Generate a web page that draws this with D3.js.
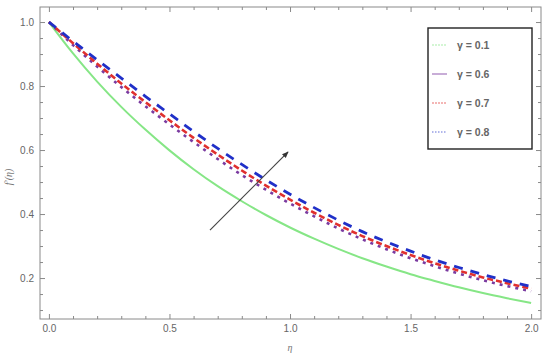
<!DOCTYPE html>
<html>
<head>
<meta charset="utf-8">
<script src="https://cdn.jsdelivr.net/npm/d3@7"></script>
<style>
body { margin: 0; background: #fff; }
.frame path, .frame line { stroke: #8a8a8a; }
.frame text { fill: #666; font-family: "Liberation Sans", Arial, sans-serif; font-size: 10px; }
.lbl { fill: #777; font-family: "Liberation Serif", serif; font-style: italic; font-size: 10px; }
.leg text { fill: #666; font-family: "Liberation Sans", Arial, sans-serif; font-size: 10.5px; font-weight: bold; }
</style>
</head>
<body>
<div class="chart"></div>
<script>
var eta = [0, 0.1, 0.2, 0.3, 0.4, 0.5, 0.6, 0.7, 0.8, 0.9, 1.0, 1.1, 1.2, 1.3, 1.4, 1.5, 1.6, 1.7, 1.8, 1.9, 2.0];

var g01 = [1.0, 0.902, 0.814, 0.735, 0.664, 0.599, 0.540, 0.487, 0.440, 0.397, 0.358, 0.323, 0.291, 0.262, 0.236, 0.212, 0.191, 0.171, 0.153, 0.137, 0.122];
var g06 = [1.0, 0.928, 0.861, 0.797, 0.737, 0.680, 0.625, 0.572, 0.522, 0.476, 0.433, 0.393, 0.355, 0.321, 0.290, 0.262, 0.237, 0.214, 0.193, 0.175, 0.159];
var g07 = [1.0, 0.934, 0.870, 0.808, 0.750, 0.693, 0.638, 0.586, 0.536, 0.489, 0.445, 0.404, 0.366, 0.331, 0.300, 0.272, 0.246, 0.223, 0.202, 0.184, 0.167];
var g08 = [1.0, 0.940, 0.882, 0.825, 0.768, 0.713, 0.658, 0.605, 0.555, 0.507, 0.462, 0.420, 0.381, 0.345, 0.313, 0.284, 0.257, 0.233, 0.211, 0.191, 0.174];

var seriesNames = ["\u03b3 = 0.1", "\u03b3 = 0.6", "\u03b3 = 0.7", "\u03b3 = 0.8"];
var seriesVals = [g01, g06, g07, g08];
var seriesColors = ["#86e686", "#7a3aa0", "#e0302e", "#2030c8"];
var seriesDash = [null, "3,5", "6,3", "9,8"];
var seriesWidth = [2, 2.6, 2.6, 2.8];

var xMajor = [0, 0.5, 1.0, 1.5, 2.0];
var yMajor = [0.2, 0.4, 0.6, 0.8, 1.0];

// arrow annotation (eta, f') start -> end
var arrowEta = [0.668, 0.992];
var arrowVal = [0.35, 0.594];

var width = 550, height = 355,
	pLeft = 40, pRight = 541, pTop = 7, pBottom = 319;

var svg = d3.select("div.chart")
	.append("svg")
	.attr("width", width)
	.attr("height", height);

var x = d3.scaleLinear().domain([-0.037, 2.041]).range([pLeft, pRight]);
var y = d3.scaleLinear().domain([0.072, 1.047]).range([pBottom, pTop]);

var xMinor = d3.range(0, 2.001, 0.1).filter(function(d) { return Math.abs(d * 2 - Math.round(d * 2)) > 1e-6; });
var yMinor = d3.range(0.1, 1.04, 0.05).filter(function(d) { return Math.abs(d * 5 - Math.round(d * 5)) > 1e-6; });

function addAxis(axisFn, scale, vals, size, fmt, tx, ty) {
	var g = svg.append("g")
		.attr("class", "frame")
		.attr("transform", "translate(" + tx + "," + ty + ")")
		.call(axisFn(scale).tickValues(vals).tickSizeInner(size).tickSizeOuter(0).tickPadding(6).tickFormat(fmt));
	g.select(".domain").remove();
	return g;
}

var fmt1 = d3.format(".1f"), none = function() { return ""; };

addAxis(d3.axisBottom, x, xMajor, -5, fmt1, 0, pBottom);
addAxis(d3.axisBottom, x, xMinor, -3, none, 0, pBottom);
addAxis(d3.axisTop, x, xMajor, -5, none, 0, pTop);
addAxis(d3.axisTop, x, xMinor, -3, none, 0, pTop);
addAxis(d3.axisLeft, y, yMajor, -5, fmt1, pLeft, 0);
addAxis(d3.axisLeft, y, yMinor, -3, none, pLeft, 0);
addAxis(d3.axisRight, y, yMajor, -5, none, pRight, 0);
addAxis(d3.axisRight, y, yMinor, -3, none, pRight, 0);

svg.append("rect")
	.attr("x", pLeft).attr("y", pTop)
	.attr("width", pRight - pLeft).attr("height", pBottom - pTop)
	.attr("fill", "none")
	.attr("stroke", "#8a8a8a");

var line = d3.line()
	.x(function(d, i) { return x(eta[i]); })
	.y(function(d) { return y(d); })
	.curve(d3.curveMonotoneX);

var curves = svg.append("g");
seriesVals.forEach(function(vals, i) {
	curves.append("path")
		.attr("d", line(vals))
		.attr("fill", "none")
		.attr("stroke", seriesColors[i])
		.attr("stroke-width", seriesWidth[i])
		.attr("stroke-dasharray", seriesDash[i]);
});

svg.append("defs").append("marker")
	.attr("id", "head")
	.attr("viewBox", "0 0 10 10")
	.attr("refX", 9).attr("refY", 5)
	.attr("markerWidth", 6).attr("markerHeight", 6)
	.attr("orient", "auto")
	.append("path")
	.attr("d", "M0,1L10,5L0,9z")
	.attr("fill", "#333");

svg.append("line")
	.attr("x1", x(arrowEta[0])).attr("y1", y(arrowVal[0]))
	.attr("x2", x(arrowEta[1])).attr("y2", y(arrowVal[1]))
	.attr("stroke", "#444")
	.attr("stroke-width", 1.1)
	.attr("marker-end", "url(#head)");

// legend
var leg = svg.append("g").attr("class", "leg");
leg.append("rect")
	.attr("x", 428).attr("y", 28)
	.attr("width", 104).attr("height", 121)
	.attr("fill", "#fff")
	.attr("stroke", "#222")
	.attr("stroke-width", 1.4);

var legDash = ["2,1", null, "2,1", "1.5,1.5"];
seriesNames.forEach(function(name, i) {
	var yy = 45 + i * 29;
	leg.append("line")
		.attr("x1", 432).attr("x2", 447)
		.attr("y1", yy).attr("y2", yy)
		.attr("stroke", seriesColors[i])
		.attr("stroke-opacity", 0.7)
		.attr("stroke-width", 1.2)
		.attr("stroke-dasharray", legDash[i]);
	leg.append("text")
		.attr("x", 457).attr("y", yy + 4)
		.text(name);
});

svg.append("text")
	.attr("class", "lbl")
	.attr("transform", "translate(12,177) rotate(-90)")
	.attr("text-anchor", "middle")
	.text("f'(\u03b7)");

svg.append("text")
	.attr("class", "lbl")
	.attr("x", 290).attr("y", 351)
	.attr("text-anchor", "middle")
	.text("\u03b7");
</script>
</body>
</html>
